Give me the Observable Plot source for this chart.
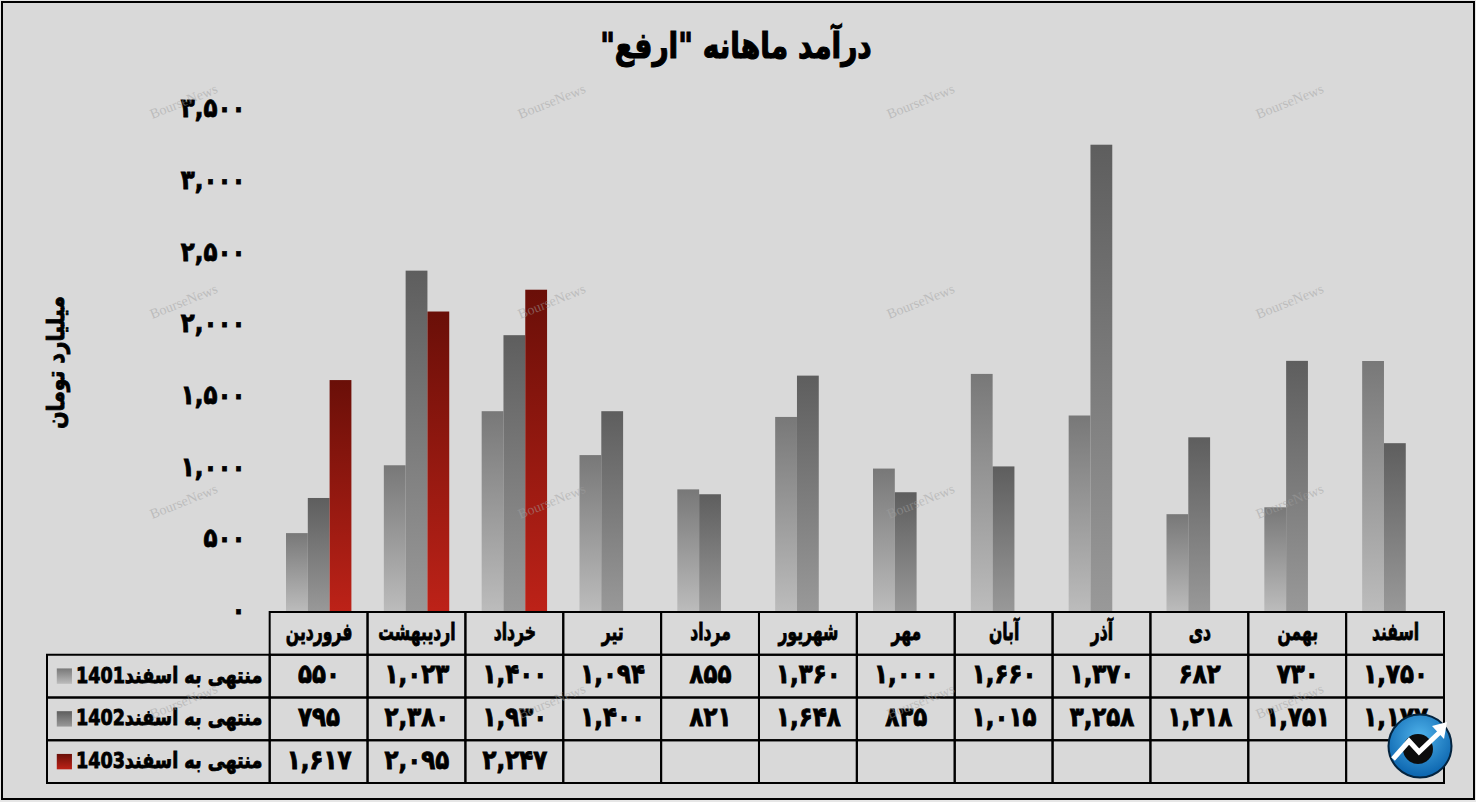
<!DOCTYPE html>
<html lang="fa">
<head>
<meta charset="utf-8">
<script src="https://cdn.jsdelivr.net/npm/d3@7"></script>
<script src="https://cdn.jsdelivr.net/npm/@observablehq/plot@0.6"></script>
<style>
html,body{margin:0;padding:0;background:#fff;}
#page{position:relative;width:1476px;height:802px;overflow:hidden;background:#e6e6e6;}
#frame{position:absolute;left:1px;top:1px;width:1470px;height:795px;border:2px solid #000;background:#d9d9d9;}
#title{position:absolute;left:0;width:1472px;top:25px;text-align:center;direction:rtl;font:bold 36px "DejaVu Sans",sans-serif;color:#000;-webkit-text-stroke:1.2px #000;transform:scaleX(.78);}
#page svg.plot-layer{position:absolute;left:0;}
.wm{position:absolute;font:14px "Liberation Serif",serif;color:rgba(160,160,160,.5);transform:translate(-50%,-50%) rotate(-22deg);white-space:nowrap;}
</style>
</head>
<body>
<div id="page">
<div id="frame"></div>
<div id="title">درآمد ماهانه "ارفع"</div>
<svg width="0" height="0" style="position:absolute">
<defs>
<linearGradient id="g1401" x1="0" y1="0" x2="0" y2="1"><stop offset="0" stop-color="#787878"/><stop offset="1" stop-color="#bcbcbc"/></linearGradient>
<linearGradient id="g1402" x1="0" y1="0" x2="0" y2="1"><stop offset="0" stop-color="#5e5e5e"/><stop offset="1" stop-color="#999999"/></linearGradient>
<linearGradient id="g1403" x1="0" y1="0" x2="0" y2="1"><stop offset="0" stop-color="#6a0f08"/><stop offset="1" stop-color="#bd2218"/></linearGradient>
</defs>
</svg>
</div>
<script>
const months = ["فروردین","اردیبهشت","خرداد","تیر","مرداد","شهریور","مهر","آبان","آذر","دی","بهمن","اسفند"];
const v1401 = [550,1023,1400,1094,855,1360,1000,1660,1370,682,730,1750];
const v1402 = [795,2380,1930,1400,821,1648,835,1015,3258,1218,1751,1177];
const v1403 = [1617,2095,2247];
const seriesLabels = ["منتهی به اسفند1401","منتهی به اسفند1402","منتهی به اسفند1403"];
const yTicks = [0,500,1000,1500,2000,2500,3000,3500];
const yLabel = "میلیارد تومان";

const FONT = '"DejaVu Sans",sans-serif';
const W = 1476;
const fa = n => d3.format(",")(n).replace(/\d/g, c => "۰۱۲۳۴۵۶۷۸۹"[+c]);
const page = document.getElementById("page");

// heavier, narrower lettering like the reference's display face
const squeeze = (root, selector, sx, sw) => {
  d3.select(root).selectAll(selector).selectAll("text").each(function () {
    const t = this.getAttribute("transform") || "";
    this.setAttribute("transform", `${t} scale(${sx},1)`);
    this.setAttribute("stroke", "#000");
    this.setAttribute("stroke-width", sw);
  });
};

// bars
const slot = 21.8, lead = 16;
const bar = (vals, i, id) => Plot.barY(months.slice(0, vals.length), {
  x: d => d, y: vals, fill: `url(#${id})`,
  insetLeft: lead + i * slot, insetRight: 97.83 - lead - (i + 1) * slot
});
const chart = Plot.plot({
  width: W, height: 613,
  marginLeft: 270, marginRight: 32, marginTop: 110, marginBottom: 1,
  style: {background: "transparent", fontFamily: FONT, overflow: "visible"},
  x: {type: "band", domain: months, padding: 0, round: false, axis: null},
  y: {domain: [0, 3500], ticks: yTicks},
  marks: [
    bar(v1401, 0, "g1401"),
    bar(v1402, 1, "g1402"),
    bar(v1403, 2, "g1403"),
    Plot.axisY({ticks: yTicks, tickSize: 0, tickPadding: 25, tickFormat: fa, label: null, dy: -2,
      fontSize: 27, fontWeight: "bold", fill: "#000", className: "ytick"}),
    Plot.text([yLabel], {frameAnchor: "left", textAnchor: "middle", dx: -214, dy: 1, rotate: -90, text: d => d,
      fontSize: 24, fontWeight: "bold", fill: "#000", className: "ylab"})
  ]
});
chart.classList.add("plot-layer");
chart.style.top = "0px";
page.appendChild(chart);
squeeze(chart, "g[aria-label='y-axis tick label']", 0.85, 0.9);
squeeze(chart, ".ylab", 0.85, 0.9);

// table drawn through Plot on column/row index scales
const labelCols = 223 / 98;
const rows = [v1401, v1402, v1403];
const cells = [];
months.forEach((m, c) => { for (let r = 0; r < 4; r++) cells.push({c, r}); });
const values = [];
rows.forEach((vals, r) => vals.forEach((v, c) => values.push({c, r: r + 1, v})));
const legend = seriesLabels.map((s, i) => ({s, r: i + 1, id: `g${1401 + i}`}));
const table = Plot.plot({
  width: W, height: 176,
  marginLeft: 47, marginRight: 32, marginTop: 1, marginBottom: 4,
  style: {background: "transparent", fontFamily: FONT, overflow: "visible"},
  x: {type: "linear", domain: [-labelCols, 12], axis: null},
  y: {type: "linear", domain: [4, 0], axis: null},
  marks: [
    Plot.rect(cells, {x1: "c", x2: d => d.c + 1, y1: "r", y2: d => d.r + 1, fill: "none", stroke: "#000", strokeWidth: 2}),
    Plot.rect(legend, {x1: -labelCols, x2: 0, y1: "r", y2: d => d.r + 1, fill: "none", stroke: "#000", strokeWidth: 2}),
    Plot.rect(legend, {x1: -labelCols + 0.1, x2: -labelCols + 0.255, y1: d => d.r + 0.32, y2: d => d.r + 0.68, fill: d => `url(#${d.id})`}),
    Plot.text(months, {x: (d, i) => i + 0.5, y: 0.47, text: d => d, fontSize: 24, fontWeight: "bold", fill: "#000", className: "tmonth"}),
    Plot.text(values, {x: d => d.c + 0.5, y: d => d.r + 0.5, dy: -2, text: d => fa(d.v), fontSize: 27, fontWeight: "bold", fill: "#000", className: "tval"}),
    Plot.text(legend, {x: -0.08, y: d => d.r + 0.5, dy: -1, text: "s", textAnchor: "end", fontSize: 22, fontWeight: "bold", fill: "#000", className: "tleg"})
  ]
});
table.classList.add("plot-layer");
table.style.top = "611px";
page.appendChild(table);
squeeze(table, ".tmonth", 0.65, 0.9);
squeeze(table, ".tval", 0.85, 0.9);
squeeze(table, ".tleg", 0.8, 0.9);

// watermark
[184, 552, 921, 1290].forEach(x => [102, 302, 502, 702].forEach(y => {
  const s = document.createElement("div");
  s.className = "wm"; s.textContent = "BourseNews";
  s.style.left = x + "px"; s.style.top = y + "px";
  page.appendChild(s);
}));

// logo
const logo = document.createElementNS("http://www.w3.org/2000/svg", "svg");
logo.setAttribute("width", 70); logo.setAttribute("height", 70);
logo.setAttribute("viewBox", "0 0 70 70");
logo.setAttribute("style", "position:absolute;left:1385px;top:711px");
logo.innerHTML = `<defs><radialGradient id="lg" cx="50%" cy="35%" r="65%"><stop offset="0" stop-color="#4fb2ea"/><stop offset="1" stop-color="#0a63ad"/></radialGradient></defs>
<circle cx="35" cy="35" r="31.5" fill="url(#lg)" stroke="#04243f" stroke-width="2"/>
<circle cx="33" cy="38" r="15" fill="#0c0c0c"/>
<path d="M8 48 L24 30 L34 41 L55 21" fill="none" stroke="#fff" stroke-width="5"/>
<path d="M47 15 L62 11 L59 28 Z" fill="#fff"/>`;
page.appendChild(logo);
</script>
</body>
</html>
